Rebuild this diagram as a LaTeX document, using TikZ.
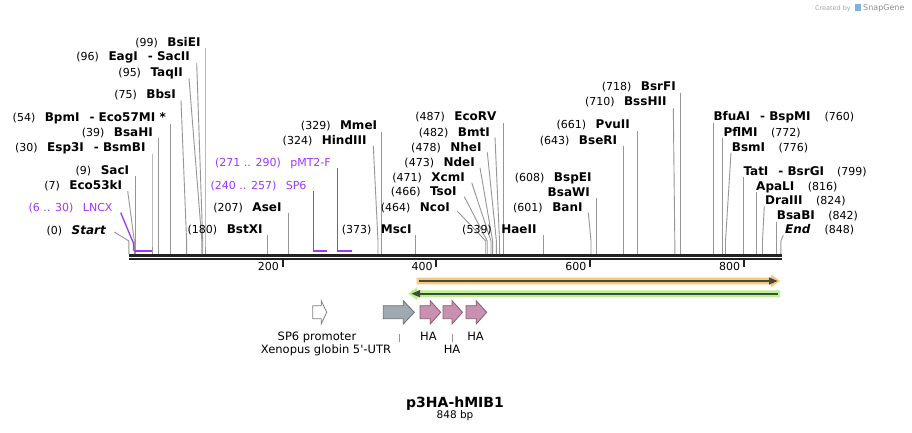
\documentclass[tikz,border=0pt]{standalone}
\usepackage{fontspec}
\setmainfont{DejaVu Sans}
\usetikzlibrary{arrows.meta}
\definecolor{cutc}{RGB}{150,150,150}
\definecolor{prim}{RGB}{160,55,245}
\definecolor{barc}{RGB}{34,34,34}
\definecolor{orL}{RGB}{250,200,125}
\definecolor{grL}{RGB}{185,242,145}
\definecolor{darkl}{RGB}{72,72,62}
\definecolor{grayA}{RGB}{160,168,176}
\definecolor{grayB}{RGB}{105,112,120}
\definecolor{pinkA}{RGB}{200,145,175}
\definecolor{pinkB}{RGB}{140,90,120}
\newcommand\enz[1]{{\fontsize{12}{14}\selectfont\bfseries #1}}
% left label: name, x_end, y_center, text, start x, site x, dy
\newcommand\LS[7]{%
  \node[lbl,anchor=base east] (#1) at (#2,{#3+4.3}) {#4};
  \coordinate (#1s) at (#5,{#3+#7});
  \coordinate (#1b) at (#6,241);
  \coordinate (#1c) at (#6,254);
  \draw[cut] (#1s) -- (#1b) -- (#1c);}
% right label
\newcommand\RS[7]{%
  \node[lbl,anchor=base west] (#1) at (#2,{#3+4.3}) {#4};
  \coordinate (#1s) at (#5,{#3+#7});
  \coordinate (#1b) at (#6,241);
  \coordinate (#1c) at (#6,254);
  \draw[cut] (#1s) -- (#1b) -- (#1c);}
\newcommand\featarrow[5]{%
  \draw[line width=0.8pt,draw=#5,fill=#4,line join=miter]
    (#1,305.7) -- ({#2-#3},305.7) -- ({#2-#3},300.7) -- (#2,312.3) --
    ({#2-#3},324) -- ({#2-#3},318.7) -- (#1,318.7) -- cycle;}
\begin{document}
\begin{tikzpicture}[x=1pt,y=-1pt,
  lbl/.style={inner sep=0pt,font=\fontsize{11}{13}\selectfont},
  cut/.style={draw=cutc,line width=0.9pt},
  pcut/.style={draw=prim,line width=1.3pt},
  pbar/.style={draw=prim,line width=2.2pt},
  tick/.style={draw=barc,line width=2pt},
  flbl/.style={inner sep=0pt,font=\fontsize{11.5}{13}\selectfont}]
\fill[white] (0,0) rectangle (912,433);
\useasboundingbox (0,0) rectangle (912,433);

% watermark
\node[inner sep=0pt,anchor=base east,text=gray!70,font=\fontsize{6.5}{8}\selectfont] (cb) at (851,10.5) {Created by};
\fill[cyan!60!blue!50] (855,4) rectangle (860.5,11.5);
\node[inner sep=0pt,anchor=base west,text=gray!90,font=\fontsize{8}{9}\selectfont] (sg) at (863,11) {SnapGene};

% ruler
\coordinate (r0) at (129,255.3);
\coordinate (r1) at (781.8,255.3);
\coordinate (q0) at (129,259.4);
\coordinate (q1) at (781.8,259.4);
\draw[barc,line width=2.7pt] (r0) -- (r1);
\draw[barc,line width=2.1pt] (q0) -- (q1);
\foreach \v/\xx in {200/282.7,400/436.4,600/590.2,800/744.0}{
  \coordinate (t\v) at (\xx,260);
  \draw[tick] (t\v) -- ++(0,7.3);
  \node[lbl,anchor=base east] (tl\v) at (\xx-3.6,270.5) {\v};
}

% left labels
\LS{Start}{106}{230}{(0)\hspace{9.5pt}\enz{\itshape Start}}{114.3}{128.9}{2}
\LS{Ecofiftythree}{122.3}{185}{(7)\hspace{9.5pt}\enz{Eco53kI}}{127.7}{134.3}{6}
\LS{SacI}{129.3}{170}{(9)\hspace{9.5pt}\enz{SacI}}{135.8}{135.8}{6}
\LS{Espthree}{145.7}{146.7}{(30)\hspace{9.5pt}\enz{Esp3I}\hspace{10pt}\enz{- BsmBI}}{152.0}{152.0}{7}
\LS{BsaHI}{153}{131.7}{(39)\hspace{9.5pt}\enz{BsaHI}}{158.9}{158.9}{6}
\LS{BpmI}{166}{117.3}{(54)\hspace{9.5pt}\enz{BpmI}\hspace{10pt}\enz{- Eco57MI *}}{170.4}{170.4}{7}
\LS{BbsI}{176}{94.3}{(75)\hspace{9.5pt}\enz{BbsI}}{181}{186.6}{6}
\LS{TaqII}{183}{72.3}{(95)\hspace{9.5pt}\enz{TaqII}}{189}{201.9}{6}
\LS{EagI}{190}{56.7}{(96)\hspace{9.5pt}\enz{EagI}\hspace{10pt}\enz{- SacII}}{196.7}{202.7}{6.5}
\LS{BsiEI}{200.7}{42.3}{(99)\hspace{9.5pt}\enz{BsiEI}}{205}{205}{6}
\LS{BstXI}{262.7}{229.3}{(180)\hspace{9.5pt}\enz{BstXI}}{267.3}{267.3}{6}
\LS{AseI}{281.7}{206.7}{(207)\hspace{9.5pt}\enz{AseI}}{288.1}{288.1}{6.5}
\LS{HindIII}{366.7}{140}{(324)\hspace{9.5pt}\enz{HindIII}}{373.3}{378}{6}
\LS{MmeI}{377.3}{125}{(329)\hspace{9.5pt}\enz{MmeI}}{381.9}{381.9}{6.5}
\LS{MscI}{411.7}{229.3}{(373)\hspace{9.5pt}\enz{MscI}}{415.7}{415.7}{6}
\LS{NcoI}{450}{206.7}{(464)\hspace{9.5pt}\enz{NcoI}}{457.3}{485.7}{4.5}
\LS{TsoI}{456.7}{190.7}{(466)\hspace{9.5pt}\enz{TsoI}}{464.3}{487.2}{6}
\LS{XcmI}{465}{176.7}{(471)\hspace{9.5pt}\enz{XcmI}}{471.7}{491.0}{6}
\LS{NdeI}{475}{161.7}{(473)\hspace{9.5pt}\enz{NdeI}}{480}{492.6}{6}
\LS{NheI}{481.7}{146.7}{(478)\hspace{9.5pt}\enz{NheI}}{487.3}{496.4}{5.6}
\LS{BmtI}{490}{131.7}{(482)\hspace{9.5pt}\enz{BmtI}}{495}{499.5}{5.6}
\LS{EcoRV}{496.7}{116}{(487)\hspace{9.5pt}\enz{EcoRV}}{503.3}{503.3}{6.7}
\LS{HaeII}{536.7}{229.3}{(539)\hspace{9.5pt}\enz{HaeII}}{543.3}{543.3}{6}
\LS{BanI}{582.7}{206.7}{(601)\hspace{9.5pt}\enz{BanI}}{588.3}{591.0}{6}
\node[lbl,anchor=base east] (BspEI) at (591.7,181) {(608)\hspace{9.5pt}\enz{BspEI}};
\LS{BsaWI}{590}{191.7}{\enz{BsaWI}}{596.4}{596.4}{6}
\LS{BseRI}{617.3}{140}{(643)\hspace{9.5pt}\enz{BseRI}}{623.3}{623.3}{6}
\LS{PvuII}{630}{124.3}{(661)\hspace{9.5pt}\enz{PvuII}}{637.1}{637.1}{6.7}
\LS{BssHII}{666.7}{101.7}{(710)\hspace{9.5pt}\enz{BssHII}}{673.3}{674.8}{6.6}
\LS{BsrFI}{676}{86.7}{(718)\hspace{9.5pt}\enz{BsrFI}}{680.9}{680.9}{6.6}

% right labels
\RS{BfuAI}{713.3}{116}{\enz{BfuAI}\hspace{10pt}\enz{- BspMI}\hspace{14pt}(760)}{713.3}{713.3}{7.3}
\RS{PflMI}{723.3}{132.3}{\enz{PflMI}\hspace{13.5pt}(772)}{722.5}{722.5}{6}
\RS{BsmI}{731.7}{146.7}{\enz{BsmI}\hspace{13.5pt}(776)}{731}{725.5}{6}
\RS{TatI}{743.3}{170.7}{\enz{TatI}\hspace{10pt}\enz{- BsrGI}\hspace{13pt}(799)}{743.2}{743.2}{6}
\RS{ApaLI}{756}{185.7}{\enz{ApaLI}\hspace{13.5pt}(816)}{756.3}{756.3}{6}
\RS{DraIII}{765}{200}{\enz{DraIII}\hspace{13.5pt}(824)}{764.3}{762.5}{6}
\RS{BsaBI}{776.7}{215}{\enz{BsaBI}\hspace{13.5pt}(842)}{776.3}{776.3}{6.7}
\RS{End}{785}{229.3}{\enz{\itshape End}\hspace{14pt}(848)}{783.3}{780.9}{5.7}

% primers
\node[lbl,anchor=base east,text=prim] (LNCX) at (112.7,211) {(6 .. 30)\hspace{9.5pt}LNCX};
\coordinate (LNCXs) at (120.7,212.7);
\coordinate (LNCXb) at (133.5,243.3);
\coordinate (LNCXa) at (133.5,250.7);
\coordinate (LNCXe) at (152.0,250.7);
\draw[pcut] (LNCXs) -- (LNCXb) -- (LNCXa);
\draw[pbar] (LNCXa) -- (LNCXe);

\node[lbl,anchor=base east,text=prim] (SPsix) at (306.7,189.3) {(240 .. 257)\hspace{9.5pt}SP6};
\coordinate (SPsixs) at (313.4,191);
\coordinate (SPsixa) at (313.4,250.7);
\coordinate (SPsixe) at (326.5,250.7);
\draw[pcut] (SPsixs) -- (SPsixa);
\draw[pbar] (SPsixa) -- (SPsixe);

\node[lbl,anchor=base east,text=prim] (pMT) at (331,166) {(271 .. 290)\hspace{9.5pt}pMT2-F};
\coordinate (pMTs) at (337.3,168.3);
\coordinate (pMTa) at (337.3,250.7);
\coordinate (pMTe) at (351.9,250.7);
\draw[pcut] (pMTs) -- (pMTa);
\draw[pbar] (pMTa) -- (pMTe);

% long features
\fill[orL] (416.5,277.6) -- (771,277.6) -- (771,274.5) -- (780,281) -- (771,287.5) -- (771,284.4) -- (416.5,284.4) -- cycle;
\draw[darkl,line width=2.2pt] (418.5,281) -- (770,281);
\fill[darkl] (769,277.3) -- (777.5,281) -- (769,284.7) -- cycle;
\fill[grL] (780,290.4) -- (417,290.4) -- (417,287.2) -- (408.3,293.7) -- (417,300.2) -- (417,297) -- (780,297) -- cycle;
\draw[darkl,line width=2.2pt] (419,293.7) -- (778,293.7);
\fill[darkl] (420,290) -- (411.5,293.7) -- (420,297.4) -- cycle;

% small features
\featarrow{312.7}{326.7}{5.5}{white}{gray}
\featarrow{383.3}{414.3}{11}{grayA}{grayB}
\featarrow{420}{440.7}{10.5}{pinkA}{pinkB}
\featarrow{443}{462.5}{10.5}{pinkA}{pinkB}
\featarrow{466}{486.7}{10.5}{pinkA}{pinkB}

\node[flbl,anchor=base] (fSP) at (317,340) {SP6 promoter};
\node[flbl,anchor=base] (fXG) at (326,353.3) {Xenopus globin 5\textquotesingle-UTR};
\coordinate (xgt) at (399.7,334);
\draw[cut] (xgt) -- ++(0,8);
\node[flbl,anchor=base] (ha1) at (428.5,340) {HA};
\node[flbl,anchor=base] (ha2) at (452,353.3) {HA};
\coordinate (hat) at (452,334);
\draw[cut] (hat) -- ++(0,8);
\node[flbl,anchor=base] (ha3) at (475.5,340) {HA};

% title
\node[inner sep=0pt,anchor=base,font=\fontsize{14}{16}\selectfont\bfseries] (title) at (455,407.3) {p3HA-hMIB1};
\node[inner sep=0pt,anchor=base,font=\fontsize{10.5}{12}\selectfont] (bp) at (455,418.3) {848 bp};
\end{tikzpicture}
\end{document}
